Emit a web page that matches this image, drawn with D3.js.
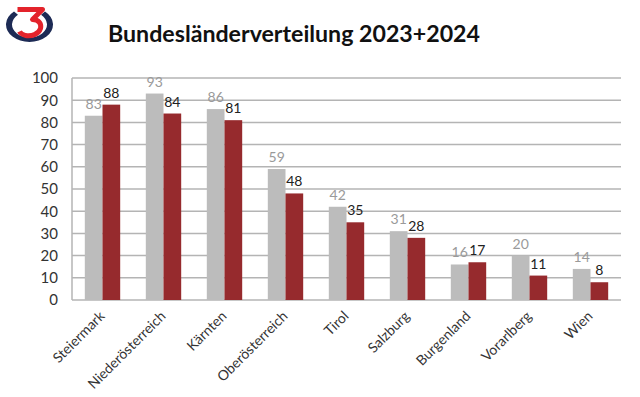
<!DOCTYPE html>
<html>
<head>
<meta charset="utf-8">
<script src="https://cdn.jsdelivr.net/npm/d3@7"></script>
<style>
  body { margin: 0; background: #fff; }
  svg { display: block; font-family: Lato, "Open Sans", sans-serif; }
</style>
</head>
<body>
<svg id="chart" width="640" height="397"></svg>
<script>
const categories = ["Steiermark", "Niederösterreich", "Kärnten", "Oberösterreich", "Tirol", "Salzburg", "Burgenland", "Vorarlberg", "Wien"]
const values2023 = [83, 93, 86, 59, 42, 31, 16, 20, 14]
const values2024 = [88, 84, 81, 48, 35, 28, 17, 11, 8]
const seriesNames = ["2023", "2024"]
const yTicks = [0, 10, 20, 30, 40, 50, 60, 70, 80, 90, 100]

const grayBar = "#bcbcbc"
const redBar = "#962a2d"
const gridColor = "#b4b4b4"
const textColor = "#333"

const margin = {top: 78, right: 19, bottom: 97, left: 72}
const width = 640, height = 397

const svg = d3.select("#chart")

// logo (Ö3 style ring with a 3)
const logo = svg.append("g").attr("transform", "translate(29.5,24.5)")
logo.append("g").attr("transform", "scale(1,0.74)")
  .append("path")
  .attr("d", d3.arc()({innerRadius: 17.5, outerRadius: 23.5, startAngle: 0.72, endAngle: 2 * Math.PI - 0.72}))
  .attr("fill", "#1d2b55")
logo.append("path")
  .attr("d", "M-12,-15 L13,-15 L3,-5 C10,-5 12,0 11,4 C9,10 2,12 -4,11 C-7,10 -9,9 -10,7")
  .attr("fill", "none")
  .attr("stroke", "#e3232b")
  .attr("stroke-width", 5)
  .attr("stroke-linejoin", "round")

// title
svg.append("text")
  .attr("x", 108).attr("y", 42)
  .attr("font-size", 23).attr("font-weight", "bold")
  .attr("fill", "#111")
  .attr("textLength", 372).attr("lengthAdjust", "spacingAndGlyphs")
  .text("Bundesländerverteilung 2023+2024")

const x0 = d3.scaleBand()
  .domain(categories)
  .range([margin.left, width - margin.right])
  .paddingInner(0.42).paddingOuter(0.21)

const x1 = d3.scaleBand()
  .domain(seriesNames)
  .range([0, x0.bandwidth()])

const y = d3.scaleLinear()
  .domain([0, 100])
  .range([height - margin.bottom, margin.top])

// gridlines
svg.append("g")
  .selectAll("line")
  .data(yTicks)
  .join("line")
  .attr("x1", margin.left).attr("x2", width - margin.right)
  .attr("y1", d => y(d)).attr("y2", d => y(d))
  .attr("stroke", gridColor).attr("stroke-width", 1.5)

svg.append("line")
  .attr("x1", margin.left).attr("x2", margin.left)
  .attr("y1", y(0)).attr("y2", y(100))
  .attr("stroke", gridColor).attr("stroke-width", 1.5)

// y axis labels
const yAxis = svg.append("g")
  .attr("transform", `translate(${margin.left},0)`)
  .call(d3.axisLeft(y).tickValues(yTicks).tickSize(0).tickPadding(14))
yAxis.select(".domain").remove()
yAxis.selectAll("text")
  .attr("font-size", 15).attr("fill", textColor)
  .attr("font-family", "Lato, sans-serif")

const rows = categories.map((c, i) => ({cat: c, vals: [values2023[i], values2024[i]]}))

const groups = svg.append("g")
  .selectAll("g")
  .data(rows)
  .join("g")
  .attr("transform", d => `translate(${x0(d.cat)},0)`)

groups.selectAll("rect")
  .data(d => d.vals.map((v, j) => ({key: seriesNames[j], v})))
  .join("rect")
  .attr("x", d => x1(d.key))
  .attr("width", x1.bandwidth())
  .attr("y", d => y(d.v))
  .attr("height", d => y(0) - y(d.v))
  .attr("fill", d => d.key === "2023" ? grayBar : redBar)

groups.selectAll("text")
  .data(d => d.vals.map((v, j) => ({key: seriesNames[j], v})))
  .join("text")
  .attr("x", d => x1(d.key) + x1.bandwidth() / 2)
  .attr("y", d => y(d.v) - 7)
  .attr("text-anchor", "middle")
  .attr("font-size", 14)
  .attr("fill", d => d.key === "2023" ? "#9a9a9a" : "#222")
  .text(d => d.v)

// x axis labels
const xAxis = svg.append("g")
  .attr("transform", `translate(0,${y(0)})`)
  .call(d3.axisBottom(x0).tickSize(0).tickPadding(0))
xAxis.select(".domain").remove()
xAxis.selectAll("text")
  .attr("font-size", 14).attr("fill", textColor)
  .attr("font-family", "Lato, sans-serif")
  .attr("text-anchor", "end")
  .attr("dy", 0)
  .attr("transform", "translate(3,17) rotate(-45)")
</script>
</body>
</html>
